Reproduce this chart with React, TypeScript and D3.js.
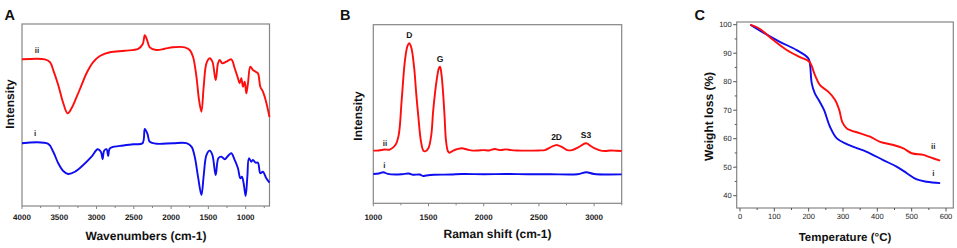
import React from "react";
import * as d3 from "d3";

// ---------- Panel A: FTIR (wavenumber cm-1, intensity a.u.) ----------
const ftirII: [number, number][] = [
  [4000, 80.6], [3692, 80.6], [3625, 79.1], [3581, 74.7], [3514, 66.5], [3447, 56.6],
  [3388, 50.9], [3334, 53.8], [3267, 59.9], [3200, 66.5], [3133, 73.1], [3045, 79.1],
  [2955, 82.4], [2821, 84.5], [2621, 85.3], [2442, 86.3], [2380, 89.0], [2353, 93.8],
  [2322, 91.2], [2286, 87.2], [2196, 85.7], [2085, 86.4], [1974, 87.2], [1817, 87.2],
  [1750, 85.7], [1706, 82.0], [1660, 71.0], [1625, 58.2], [1593, 51.8], [1563, 65.5],
  [1526, 78.4], [1482, 81.2], [1446, 79.3], [1402, 69.2], [1371, 78.4], [1348, 80.2],
  [1312, 78.4], [1259, 79.3], [1192, 80.6], [1147, 75.7], [1103, 70.2], [1080, 67.4],
  [1058, 70.2], [1036, 65.5], [1013, 68.3], [991, 61.9], [969, 67.4], [937, 76.5],
  [902, 74.7], [866, 73.8], [835, 72.9], [803, 65.5], [768, 62.8], [732, 58.2], [680, 48.9],
];
const ftirI: [number, number][] = [
  [4000, 34.5], [3648, 34.1], [3581, 29.8], [3514, 23.5], [3447, 19.2], [3380, 17.6],
  [3290, 18.8], [3179, 22.5], [3067, 27.1], [2986, 31.2], [2942, 29.8], [2919, 25.7],
  [2898, 30.4], [2866, 31.2], [2844, 27.5], [2821, 31.7], [2688, 33.0], [2509, 33.9],
  [2383, 34.5], [2353, 42.3], [2317, 39.6], [2286, 35.3], [2196, 34.2], [1974, 34.5],
  [1794, 34.5], [1727, 32.6], [1683, 27.1], [1639, 16.1], [1593, 6.0], [1562, 17.0],
  [1526, 28.0], [1482, 30.4], [1446, 28.0], [1402, 17.0], [1366, 26.2], [1326, 27.1],
  [1281, 25.7], [1237, 27.5], [1192, 29.0], [1147, 25.3], [1103, 20.7], [1071, 15.2],
  [1050, 16.1], [1027, 12.5], [1000, 5.5], [977, 16.1], [956, 26.2], [924, 24.3],
  [902, 25.3], [866, 23.8], [835, 23.8], [803, 18.0], [768, 18.8], [723, 15.2], [680, 12.8],
];
const ftirTicks = [4000, 3500, 3000, 2500, 2000, 1500, 1000];
const ftirMinor = [3750, 3250, 2750, 2250, 1750, 1250, 750];

// ---------- Panel B: Raman ----------
const ramanII: [number, number][] = [
  [1000, 29.5], [1050, 29.6], [1100, 30.1], [1150, 30.1], [1200, 32.6], [1230, 38.2],
  [1257, 57.8], [1287, 80.2], [1310, 88.1], [1326, 89.6], [1345, 87.0], [1369, 76.5],
  [1390, 60.6], [1408, 48.5], [1430, 35.4], [1453, 29.5], [1470, 29.1], [1500, 31.0],
  [1525, 38.2], [1543, 52.2], [1574, 69.0], [1595, 75.8], [1604, 76.5], [1615, 73.5],
  [1628, 65.3], [1645, 49.4], [1658, 35.4], [1675, 29.3], [1689, 28.3], [1725, 29.5],
  [1800, 30.8], [1850, 30.1], [1900, 29.5], [1950, 29.6], [2000, 29.8], [2050, 29.6],
  [2100, 30.4], [2150, 29.8], [2200, 30.2], [2250, 29.8], [2300, 29.6], [2400, 29.5],
  [2500, 29.6], [2555, 29.8], [2600, 31.2], [2655, 32.6], [2710, 31.5], [2757, 29.8],
  [2800, 29.8], [2860, 31.5], [2927, 33.6], [2970, 32.1], [3008, 30.7], [3053, 29.6],
  [3100, 29.3], [3150, 29.6], [3200, 29.4], [3250, 29.3],
];
const ramanI: [number, number][] = [
  [1000, 16.4], [1050, 16.7], [1090, 17.4], [1130, 16.5], [1200, 16.1], [1260, 16.3],
  [1320, 16.7], [1360, 16.0], [1420, 16.1], [1450, 15.3], [1480, 15.6], [1550, 16.0],
  [1700, 16.1], [1800, 16.4], [2000, 16.3], [2200, 16.4], [2400, 16.3], [2600, 16.3],
  [2850, 16.3], [2930, 17.4], [3000, 16.4], [3250, 16.2],
];
const ramanTicks = [1000, 1500, 2000, 2500, 3000];
const ramanMinor = [1250, 1750, 2250, 2750, 3250];
const ramanPeaks = [
  { label: "D", x: 1326, y: 89.6 },
  { label: "G", x: 1604, y: 76.5 },
  { label: "2D", x: 2660, y: 32.6 },
  { label: "S3", x: 2927, y: 33.6 },
];

// ---------- Panel C: TGA ----------
const tgaI: [number, number][] = [
  [30, 100], [68, 97.2], [116, 94.0], [165, 91.1], [199, 88.2], [204, 85.9], [209, 79.4],
  [218, 75.9], [233, 72.8], [245, 70.0], [262, 64.2], [282, 60.1], [311, 58.1], [340, 56.7],
  [369, 55.4], [417, 52.5], [456, 50.2], [486, 47.9], [515, 45.7], [544, 44.9], [583, 44.4],
];
const tgaII: [number, number][] = [
  [30, 100], [58, 98.5], [97, 94.6], [136, 91.1], [175, 88.6], [202, 87.0], [218, 82.4],
  [233, 78.8], [257, 76.5], [277, 73.6], [289, 70.1], [298, 65.8], [311, 63.6], [350, 61.9],
  [379, 60.7], [408, 58.9], [447, 57.8], [476, 56.6], [500, 54.9], [534, 54.3], [553, 53.5],
  [583, 52.3],
];
const tgaXTicks = [0, 100, 200, 300, 400, 500, 600];
const tgaXMinor = [50, 150, 250, 350, 450, 550];
const tgaYTicks = [40, 50, 60, 70, 80, 90, 100];
const tgaYMinor = [45, 55, 65, 75, 85, 95];

const RED = "#ff0d0d";
const BLUE = "#0d0df0";
const FRAME = "#858585";
const LABEL = "#2a2a2a";
const FONT = "'Liberation Sans', Arial, Helvetica, sans-serif";

const lineGen = (xs: d3.ScaleLinear<number, number>, ys: d3.ScaleLinear<number, number>) =>
  d3
    .line<[number, number]>()
    .x((d) => xs(d[0]))
    .y((d) => ys(d[1]))
    .curve(d3.curveCatmullRom.alpha(0.5));

function App() {
  const axA = d3.scaleLinear().domain([4000, 680]).range([22, 269.5]);
  const ayA = d3.scaleLinear().domain([0, 100]).range([206, 24]);
  const lA = lineGen(axA, ayA);
  const bxB = d3.scaleLinear().domain([1000, 3250]).range([373.3, 621.7]);
  const byB = d3.scaleLinear().domain([0, 100]).range([203.3, 24.7]);
  const lB = lineGen(bxB, byB);
  const cx = d3.scaleLinear().domain([0, 600]).range([740, 946]);
  const cy = d3.scaleLinear().domain([40, 100]).range([195.7, 24.7]);
  const lC = lineGen(cx, cy);

  const cFrame = { x0: 736.7, x1: 953.3, y0: 22, y1: 208 };

  return (
    <svg
      width={957}
      height={248}
      style={{ position: "absolute", left: 0, top: 0, background: "#fff" }}
      fontFamily={FONT}
      textRendering="geometricPrecision"
    >
      <rect x={0} y={0} width={957} height={248} fill="#fff" />

      {/* ================= Panel A ================= */}
      <text x={4.5} y={20} fontSize={14.5} fontWeight="bold" fill="#111">A</text>
      <rect x={22} y={24} width={247.5} height={182} fill="none" stroke={FRAME} strokeWidth={1.2} />
      {ftirTicks.map((t) => (
        <g key={"at" + t}>
          <line x1={axA(t)} x2={axA(t)} y1={206} y2={209} stroke={FRAME} strokeWidth={1} />
          <text x={axA(t)} y={220} fontSize={8} fontWeight="bold" textAnchor="middle" fill="#222">{t}</text>
        </g>
      ))}
      {ftirMinor.map((t) => (
        <line key={"am" + t} x1={axA(t)} x2={axA(t)} y1={206} y2={208} stroke={FRAME} strokeWidth={1} />
      ))}
      <path d={lA(ftirII) || ""} fill="none" stroke={RED} strokeWidth={1.9} strokeLinejoin="round" />
      <path d={lA(ftirI) || ""} fill="none" stroke={BLUE} strokeWidth={1.9} strokeLinejoin="round" />
      <text x={37} y={53} fontSize={8} fontWeight="bold" textAnchor="middle" fill={LABEL}>ii</text>
      <text x={35} y={136} fontSize={8} fontWeight="bold" textAnchor="middle" fill={LABEL}>i</text>
      <text x={146} y={240} fontSize={12} fontWeight="bold" textAnchor="middle" fill="#111">Wavenumbers (cm-1)</text>
      <text transform="translate(14,104) rotate(-90)" fontSize={12} fontWeight="bold" textAnchor="middle" fill="#111">Intensity</text>

      {/* ================= Panel B ================= */}
      <text x={340} y={19.5} fontSize={14.5} fontWeight="bold" fill="#111">B</text>
      <rect x={373.3} y={24.7} width={248.4} height={178.6} fill="none" stroke={FRAME} strokeWidth={1.2} />
      {ramanTicks.map((t) => (
        <g key={"bt" + t}>
          <line x1={bxB(t)} x2={bxB(t)} y1={203.3} y2={206.3} stroke={FRAME} strokeWidth={1} />
          <text x={bxB(t)} y={220} fontSize={8} fontWeight="bold" textAnchor="middle" fill="#222">{t}</text>
        </g>
      ))}
      {ramanMinor.map((t) => (
        <line key={"bm" + t} x1={bxB(t)} x2={bxB(t)} y1={203.3} y2={205.3} stroke={FRAME} strokeWidth={1} />
      ))}
      <path d={lB(ramanII) || ""} fill="none" stroke={RED} strokeWidth={1.9} strokeLinejoin="round" />
      <path d={lB(ramanI) || ""} fill="none" stroke={BLUE} strokeWidth={1.9} strokeLinejoin="round" />
      {ramanPeaks.map((p) => (
        <text key={p.label} x={bxB(p.x)} y={byB(p.y) - 5} fontSize={8.5} fontWeight="bold" textAnchor="middle" fill="#111">
          {p.label}
        </text>
      ))}
      <text x={385} y={145.5} fontSize={8} fontWeight="bold" textAnchor="middle" fill={LABEL}>ii</text>
      <text x={384.3} y={168} fontSize={8} fontWeight="bold" textAnchor="middle" fill={LABEL}>i</text>
      <text x={497.5} y={238} fontSize={12} fontWeight="bold" textAnchor="middle" fill="#111">Raman shift (cm-1)</text>
      <text transform="translate(361.5,116) rotate(-90)" fontSize={12} fontWeight="bold" textAnchor="middle" fill="#111">Intensity</text>

      {/* ================= Panel C ================= */}
      <text x={694.5} y={19.5} fontSize={14.5} fontWeight="bold" fill="#111">C</text>
      <rect x={cFrame.x0} y={cFrame.y0} width={cFrame.x1 - cFrame.x0} height={cFrame.y1 - cFrame.y0} fill="none" stroke={FRAME} strokeWidth={1.2} />
      {tgaXTicks.map((t) => (
        <g key={"cx" + t}>
          <line x1={cx(t)} x2={cx(t)} y1={cFrame.y1} y2={cFrame.y1 + 3.5} stroke="#555" strokeWidth={1} />
          <text x={cx(t)} y={cFrame.y1 + 11} fontSize={7.5} textAnchor="middle" fill="#222">{t}</text>
        </g>
      ))}
      {tgaXMinor.map((t) => (
        <line key={"cxm" + t} x1={cx(t)} x2={cx(t)} y1={cFrame.y1} y2={cFrame.y1 + 2} stroke="#555" strokeWidth={1} />
      ))}
      {tgaYTicks.map((t) => (
        <g key={"cy" + t}>
          <line x1={cFrame.x0 - 3.5} x2={cFrame.x0} y1={cy(t)} y2={cy(t)} stroke="#555" strokeWidth={1} />
          <text x={cFrame.x0 - 5} y={cy(t) + 2.6} fontSize={7.5} textAnchor="end" fill="#222">{t}</text>
        </g>
      ))}
      {tgaYMinor.map((t) => (
        <line key={"cym" + t} x1={cFrame.x0 - 2} x2={cFrame.x0} y1={cy(t)} y2={cy(t)} stroke="#555" strokeWidth={1} />
      ))}
      <path d={lC(tgaI) || ""} fill="none" stroke={BLUE} strokeWidth={1.9} strokeLinejoin="round" />
      <path d={lC(tgaII) || ""} fill="none" stroke={RED} strokeWidth={1.9} strokeLinejoin="round" />
      <text x={933.3} y={149} fontSize={8} fontWeight="bold" textAnchor="middle" fill={LABEL}>ii</text>
      <text x={933.3} y={176} fontSize={8} fontWeight="bold" textAnchor="middle" fill={LABEL}>i</text>
      <text x={845} y={241} fontSize={11.5} fontWeight="bold" textAnchor="middle" fill="#111">Temperature (°C)</text>
      <text transform="translate(712.5,116.5) rotate(-90)" fontSize={12} fontWeight="bold" textAnchor="middle" fill="#111">Weight loss (%)</text>
    </svg>
  );
}

export default App;
